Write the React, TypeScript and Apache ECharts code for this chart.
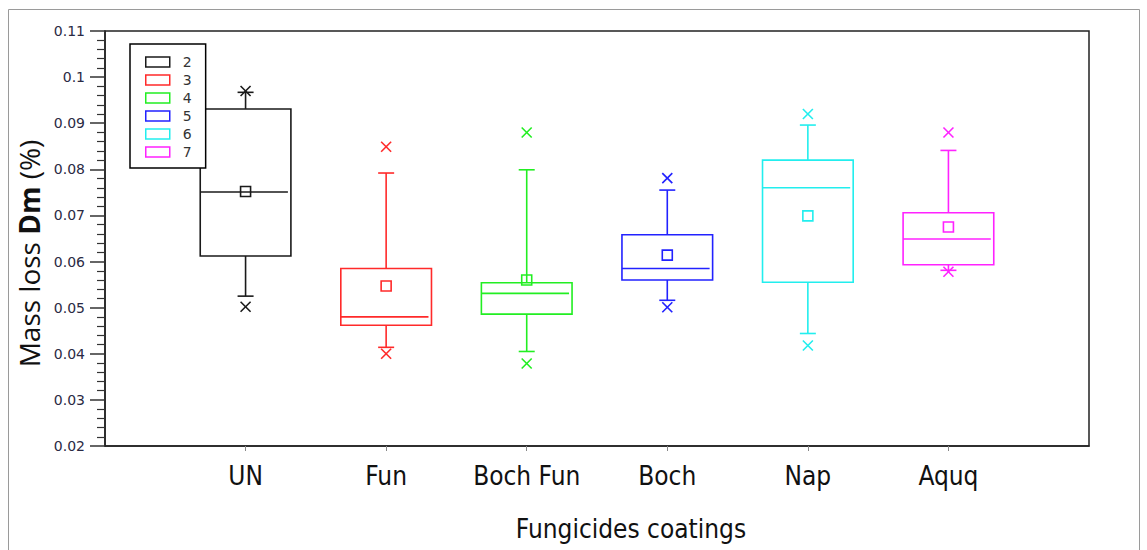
import React, { useEffect, useRef } from "react";
import * as echarts from "echarts";

// Categories (x positions 1..6 on a 0..7 value axis)
const categories = ["UN", "Fun", "Boch Fun", "Boch", "Nap", "Aquq"];
const legendNames = ["2", "3", "4", "5", "6", "7"];
const colors = ["#1a1a1a", "#ff2a2a", "#22ee22", "#2222ff", "#22eeee", "#ff22ff"];

// Box statistics
const whiskerLow = [0.0525, 0.0414, 0.0405, 0.0516, 0.0444, 0.0581];
const q1 = [0.0612, 0.0462, 0.0486, 0.056, 0.0555, 0.0593];
const median = [0.0751, 0.048, 0.0531, 0.0585, 0.076, 0.0649];
const q3 = [0.0931, 0.0585, 0.0554, 0.0658, 0.082, 0.0706];
const whiskerHigh = [0.0967, 0.0792, 0.0799, 0.0755, 0.0896, 0.0841];
const mean = [0.0752, 0.0547, 0.056, 0.0614, 0.0699, 0.0675];
const pctLow = [0.0502, 0.04, 0.0379, 0.0501, 0.0418, 0.0578];
const pctHigh = [0.097, 0.0849, 0.088, 0.0781, 0.092, 0.088];

const yTicks = [0.02, 0.03, 0.04, 0.05, 0.06, 0.07, 0.08, 0.09, 0.1, 0.11];

const narrowFont = "'Liberation Sans Narrow', 'DejaVu Sans Condensed', 'Arial Narrow', sans-serif";

export default function App() {
  const ref = useRef<HTMLDivElement>(null);

  useEffect(() => {
    if (!ref.current) return;
    const chart = echarts.init(ref.current, null, { renderer: "svg" });

    const series = categories.map((cat, i) => ({
      name: legendNames[i],
      type: "custom",
      clip: false,
      data: [[i + 1, whiskerLow[i], q1[i], median[i], q3[i], whiskerHigh[i], mean[i], pctLow[i], pctHigh[i]]],
      renderItem: (params: any, api: any) => {
        const xv = api.value(0);
        const c = colors[i];
        const p = (k: number) => api.coord([xv, api.value(k)]);
        const wl = p(1), b1 = p(2), md = p(3), b3 = p(4), wh = p(5), mn = p(6), pl = p(7), ph = p(8);
        const cx = wl[0];
        const bw = api.size([0.645, 0])[0];
        const lw = 1.6;
        const st = { stroke: c, lineWidth: lw, fill: null };
        const line = (x1: number, y1: number, x2: number, y2: number) => ({
          type: "line",
          shape: { x1, y1, x2, y2 },
          style: st,
        });
        const cross = (y: number) => [
          line(cx - 5, y - 5, cx + 5, y + 5),
          line(cx - 5, y + 5, cx + 5, y - 5),
        ];
        const cap = 8;
        return {
          type: "group",
          children: [
            {
              type: "rect",
              shape: { x: cx - bw / 2, y: b3[1], width: bw, height: b1[1] - b3[1] },
              style: { stroke: c, lineWidth: lw, fill: "none" },
            },
            line(cx - bw / 2, md[1], cx + bw / 2 - 3, md[1]),
            line(cx, b3[1], cx, wh[1]),
            line(cx, b1[1], cx, wl[1]),
            line(cx - cap, wh[1], cx + cap, wh[1]),
            line(cx - cap, wl[1], cx + cap, wl[1]),
            {
              type: "rect",
              shape: { x: cx - 5, y: mn[1] - 5, width: 10, height: 10 },
              style: { stroke: c, lineWidth: lw, fill: "none" },
            },
            ...cross(pl[1]),
            ...cross(ph[1]),
          ],
        };
      },
    }));

    chart.setOption({
      animation: false,
      backgroundColor: "#fff",
      graphic: [
        {
          type: "rect",
          shape: { x: 8.5, y: 9.5, width: 1131, height: 560 },
          style: { fill: "none", stroke: "#9a9a9a", lineWidth: 1 },
          silent: true,
        },
      ],
      legend: {
        orient: "vertical",
        left: 130,
        top: 44,
        backgroundColor: "#fff",
        borderColor: "#000",
        borderWidth: 1.5,
        padding: [11, 14, 9, 15],
        itemWidth: 24,
        itemHeight: 10,
        itemGap: 4,
        textStyle: { fontSize: 14, lineHeight: 14, color: "#333", fontFamily: "'DejaVu Sans', sans-serif", padding: [0, 0, 0, 8] },
        data: legendNames.map((n, i) => ({
          name: n,
          icon: "rect",
          itemStyle: { color: "rgba(255,255,255,0)", borderColor: colors[i], borderWidth: 1.5 },
        })),
      },
      grid: {
        left: 105,
        right: 58,
        top: 31,
        bottom: 104,
        show: true,
        borderColor: "#222",
        borderWidth: 1.5,
        backgroundColor: "transparent",
      },
      xAxis: {
        type: "value",
        min: 0,
        max: 7,
        interval: 1,
        name: "Fungicides coatings",
        nameLocation: "middle",
        nameGap: 70,
        nameTextStyle: { fontSize: 26, color: "#111", fontFamily: narrowFont, padding: [0, 0, 0, 68] },
        axisLine: { show: true, lineStyle: { color: "#222", width: 1.5 } },
        axisTick: { show: true, length: 5, lineStyle: { color: "#888" }, customValues: [1, 2, 3, 4, 5, 6] },
        axisLabel: {
          fontSize: 26,
          color: "#111",
          fontFamily: narrowFont,
          margin: 17,
          customValues: [1, 2, 3, 4, 5, 6],
          formatter: (v: number) => categories[Math.round(v) - 1] ?? "",
        },
        splitLine: { show: false },
      },
      yAxis: {
        type: "value",
        min: 0.02,
        max: 0.11,
        interval: 0.01,
        name: "Mass loss {b|Dm} (%)",
        nameLocation: "middle",
        nameRotate: 90,
        nameGap: 61,
        nameTextStyle: {
          fontSize: 28,
          color: "#111",
          fontFamily: "'Open Sans', 'Noto Sans', sans-serif",
          padding: [0, 30, 0, 0],
          rich: {
            b: { fontSize: 28, fontWeight: "bold", color: "#111", fontFamily: "'Open Sans', 'Noto Sans', sans-serif" },
          },
        },
        axisLine: { show: true, lineStyle: { color: "#222", width: 1.5 } },
        axisTick: { show: true, length: 15, lineStyle: { color: "#333", width: 1.5 } },
        minorTick: { show: true, splitNumber: 5, length: 8, lineStyle: { color: "#333", width: 1.2 } },
        axisLabel: {
          fontSize: 14,
          color: "#2a2a44",
          fontFamily: "'DejaVu Sans', sans-serif",
          margin: 20,
          formatter: (v: number) => {
            const t = yTicks.find((k) => Math.abs(k - v) < 1e-9);
            return t === undefined ? String(+v.toFixed(2)) : String(t);
          },
        },
        splitLine: { show: false },
      },
      series,
    });

    return () => chart.dispose();
  }, []);

  return (
    <div
      ref={ref}
      style={{ position: "absolute", left: 0, top: 0, width: 1147, height: 550 }}
    />
  );
}
